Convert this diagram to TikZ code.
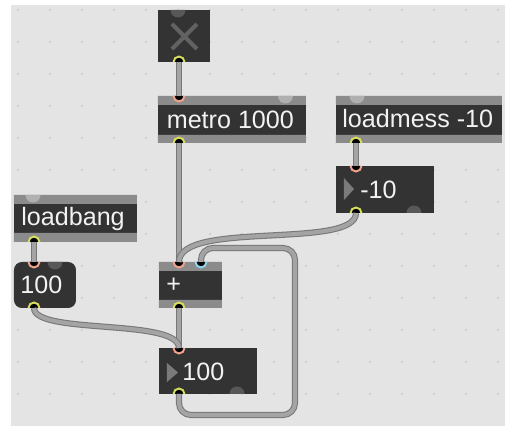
\documentclass[tikz,border=0pt]{standalone}
\usepackage{fontspec}
\setmainfont{Liberation Sans}
\definecolor{canvas}{HTML}{E4E4E4}
\definecolor{griddot}{HTML}{C4C4C4}
\definecolor{boxdark}{HTML}{333333}
\definecolor{boxband}{HTML}{8B8B8B}
\definecolor{boxtext}{HTML}{F2F2F2}
\definecolor{cordfill}{HTML}{A4A4A4}
\definecolor{cordedge}{HTML}{777777}
\definecolor{outlet}{HTML}{D8DE5C}
\definecolor{inlet}{HTML}{F0A28C}
\definecolor{inletcold}{HTML}{8ED5EC}
\definecolor{portband}{HTML}{B0B0B0}
\definecolor{portdark}{HTML}{585858}
\definecolor{cross}{HTML}{626262}
\definecolor{tri}{HTML}{7A7A7A}
\begin{document}
\begin{tikzpicture}[x=0.02cm,y=-0.02cm,
	objbox/.style={fill=boxdark},
	band/.style={fill=boxband},
	txt/.style={anchor=base west,inner sep=0pt,text=boxtext,font=\fontsize{14.3}{17}\selectfont},
	cord/.style={draw=cordedge,line width=0.6pt,double=cordfill,double distance=2.3pt},
	ring/.style={line width=1.1pt}]
	\useasboundingbox (0,0) rectangle (505,426);
	\fill[white] (0,0) rectangle (505,426);
	\fill[canvas] (11,5) rectangle (505,426);
	% grid
	\foreach \i in {0,...,15}
		\foreach \j in {0,...,12}
			\fill[griddot] (18+32*\i,10+32*\j) circle[radius=1];
	% boxes
	\fill[objbox] (158,10) rectangle (210,62);
	\draw[cross,line width=2.4pt] (172,24) -- (197,49) (172,49) -- (197,24);
	\fill[objbox] (158,96) rectangle (306,143);
	\fill[band] (158,96) rectangle (306,105) (158,135) rectangle (306,143);
	\fill[objbox] (336,96) rectangle (502,143);
	\fill[band] (336,96) rectangle (502,105) (336,135) rectangle (502,143);
	\fill[objbox] (336,166) rectangle (434,213);
	\fill[tri] (344,178) -- (354,189) -- (344,200) -- cycle;
	\fill[objbox] (14,195) rectangle (137,242);
	\fill[band] (14,195) rectangle (137,204) (14,233) rectangle (137,242);
	\fill[objbox,rounded corners=4.5pt] (14,262) rectangle (76,308);
	\fill[objbox] (159,262) rectangle (222,308);
	\fill[band] (159,262) rectangle (222,271) (159,300) rectangle (222,308);
	\fill[objbox] (159,348) rectangle (257,394);
	\fill[tri] (167,363) -- (178,372.5) -- (167,382) -- cycle;
	% texts
	\node[txt] (metro) at (166.5,129) {metro 1000};
	\node[txt] (lmess) at (342,128) {loadmess -10};
	\node[txt] (neg) at (360,198) {-10};
	\node[txt] (lbang) at (21,226) {loadbang};
	\node[txt] (msg) at (20,294) {100};
	\node[txt] (plus) at (166,293) {+};
	\node[txt] (num) at (182,380) {100};
	% ports
	\coordinate (toggle-out) at (179,62);
	\coordinate (metro-in) at (179,96);
	\coordinate (metro-out) at (179,143);
	\coordinate (lmess-out) at (356,143);
	\coordinate (neg-in) at (356,166);
	\coordinate (neg-out) at (356,213);
	\coordinate (lbang-out) at (34,242);
	\coordinate (msg-in) at (34,262);
	\coordinate (msg-out) at (34,308);
	\coordinate (plus-in) at (179,262);
	\coordinate (plus-inr) at (201,262);
	\coordinate (plus-out) at (179,308);
	\coordinate (num-in) at (179,348);
	\coordinate (num-out) at (179,394);
	% unused ports
	\foreach \x/\y/\c in {178/10/portdark,285.5/96/portband,357/96/portband,33/195/portband,55/262/portdark}
		\fill[\c] (\x-7.5,\y) arc[start angle=180,end angle=0,radius=7.5] -- cycle;
	\foreach \x/\y in {414/213,237/394}
		\fill[portdark] (\x-7.5,\y) arc[start angle=180,end angle=360,radius=7.5] -- cycle;
	\foreach \c in {toggle-out,metro-out,lmess-out,neg-out,lbang-out,msg-out,plus-out,num-out}{
		\fill[black] (\c) ++(-4.5,0) arc[start angle=180,end angle=360,radius=4.5] -- cycle;
		\draw[ring,outlet] (\c) ++(-5.5,0) arc[start angle=180,end angle=360,radius=5.5];
	}
	\foreach \c/\col in {metro-in/inlet,neg-in/inlet,msg-in/inlet,plus-in/inlet,plus-inr/inletcold,num-in/inlet}{
		\fill[black] (\c) ++(-4.5,0) arc[start angle=180,end angle=0,radius=4.5] -- cycle;
		\draw[ring,\col] (\c) ++(-5.5,0) arc[start angle=180,end angle=0,radius=5.5];
	}
	% cords
	\draw[cord] (toggle-out) -- (metro-in);
	\draw[cord] (metro-out) -- (plus-in);
	\draw[cord] (lmess-out) -- (neg-in);
	\draw[cord] (lbang-out) -- (msg-in);
	\draw[cord] (plus-out) -- (num-in);
	\draw[cord] (msg-out) .. controls +(0,27) and +(0,-30) .. (num-in);
	\draw[cord] (neg-out) .. controls +(0,37) and +(0,-42) .. (plus-in);
	\draw[cord,rounded corners=6.8pt] (num-out) |- (295,415) -- (295,248) -| (plus-inr);
\end{tikzpicture}
\end{document}
